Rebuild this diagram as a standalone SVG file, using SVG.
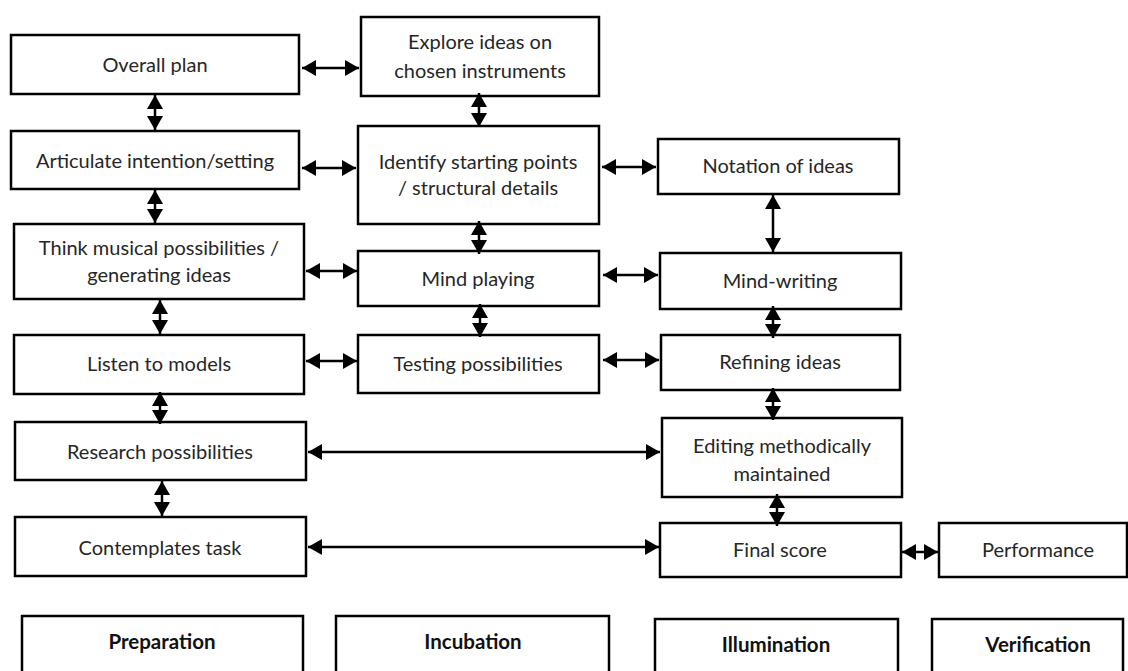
<svg xmlns="http://www.w3.org/2000/svg" width="1128" height="671" viewBox="0 0 1128 671">
  <style>
    .box { fill: #ffffff; stroke: #000000; stroke-width: 2.5; }
    .lbl { font-family: Lato, "Liberation Sans", sans-serif; font-size: 20px; fill: #262626; text-anchor: middle; }
    .stage { font-family: Lato, "Liberation Sans", sans-serif; font-size: 20.5px; font-weight: bold; fill: #111111; text-anchor: middle; }
    .link { stroke: #000000; stroke-width: 2.5; fill: none; marker-start: url(#head); marker-end: url(#head); }
  </style>
  <defs>
    <marker id="head" markerUnits="userSpaceOnUse" markerWidth="15" markerHeight="16" refX="14" refY="8" orient="auto-start-reverse" viewBox="0 0 15 16">
      <path d="M0,0 L14,8 L0,16 Z" fill="#000000"/>
    </marker>
  </defs>
  <rect width="1128" height="671" fill="#ffffff"/>

  <!-- Preparation column -->
  <g id="overall-plan">
    <rect class="box" x="11" y="35" width="288" height="59"/>
    <text class="lbl" x="155" y="72">Overall plan</text>
  </g>
  <g id="articulate-intention">
    <rect class="box" x="11" y="131" width="288" height="58"/>
    <text class="lbl" x="155" y="168">Articulate intention/setting</text>
  </g>
  <g id="think-possibilities">
    <rect class="box" x="14" y="224" width="290" height="75"/>
    <text class="lbl" x="159" y="255">Think musical possibilities /</text>
    <text class="lbl" x="159" y="282">generating ideas</text>
  </g>
  <g id="listen-models">
    <rect class="box" x="14" y="335" width="290" height="59"/>
    <text class="lbl" x="159" y="371">Listen to models</text>
  </g>
  <g id="research-possibilities">
    <rect class="box" x="15" y="422" width="291" height="58"/>
    <text class="lbl" x="160" y="459">Research possibilities</text>
  </g>
  <g id="contemplates-task">
    <rect class="box" x="15" y="517" width="291" height="59"/>
    <text class="lbl" x="160" y="555">Contemplates task</text>
  </g>

  <!-- Incubation column -->
  <g id="explore-ideas">
    <rect class="box" x="361" y="17" width="238" height="79"/>
    <text class="lbl" x="480" y="49">Explore ideas on</text>
    <text class="lbl" x="480" y="78">chosen instruments</text>
  </g>
  <g id="identify-starting-points">
    <rect class="box" x="358" y="126" width="241" height="98"/>
    <text class="lbl" x="478" y="169">Identify starting points</text>
    <text class="lbl" x="478" y="195">/ structural details</text>
  </g>
  <g id="mind-playing">
    <rect class="box" x="358" y="251" width="241" height="55"/>
    <text class="lbl" x="478" y="286">Mind playing</text>
  </g>
  <g id="testing-possibilities">
    <rect class="box" x="358" y="335" width="241" height="58"/>
    <text class="lbl" x="478" y="371">Testing possibilities</text>
  </g>

  <!-- Illumination column -->
  <g id="notation-of-ideas">
    <rect class="box" x="658" y="139" width="241" height="55"/>
    <text class="lbl" x="778" y="173">Notation of ideas</text>
  </g>
  <g id="mind-writing">
    <rect class="box" x="660" y="253" width="241" height="56"/>
    <text class="lbl" x="780" y="288">Mind-writing</text>
  </g>
  <g id="refining-ideas">
    <rect class="box" x="661" y="335" width="239" height="55"/>
    <text class="lbl" x="780" y="369">Refining ideas</text>
  </g>
  <g id="editing-methodically">
    <rect class="box" x="662" y="418" width="240" height="79"/>
    <text class="lbl" x="782" y="453">Editing methodically</text>
    <text class="lbl" x="782" y="481">maintained</text>
  </g>
  <g id="final-score">
    <rect class="box" x="660" y="523" width="241" height="54"/>
    <text class="lbl" x="780" y="557">Final score</text>
  </g>

  <!-- Verification column -->
  <g id="performance">
    <rect class="box" x="939" y="523" width="188" height="54"/>
    <text class="lbl" x="1038" y="557">Performance</text>
  </g>

  <!-- Stage headings along the bottom -->
  <g id="stage-preparation">
    <rect class="box" x="22" y="616" width="281" height="80"/>
    <text class="stage" x="162" y="649">Preparation</text>
  </g>
  <g id="stage-incubation">
    <rect class="box" x="336" y="616" width="273" height="80"/>
    <text class="stage" x="473" y="649">Incubation</text>
  </g>
  <g id="stage-illumination">
    <rect class="box" x="655" y="619" width="243" height="80"/>
    <text class="stage" x="776" y="652">Illumination</text>
  </g>
  <g id="stage-verification">
    <rect class="box" x="932" y="619" width="191" height="80"/>
    <text class="stage" x="1038" y="652">Verification</text>
  </g>

  <!-- Two-way connectors (short ones overlap the box edges slightly) -->
  <g id="connectors">
    <!-- vertical -->
    <line class="link" x1="155" y1="95" x2="155" y2="130"/>
    <line class="link" x1="155" y1="190" x2="155" y2="223"/>
    <line class="link" x1="160" y1="300" x2="160" y2="334"/>
    <line class="link" x1="160" y1="392" x2="160" y2="424"/>
    <line class="link" x1="162" y1="481" x2="162" y2="516"/>
    <line class="link" x1="479" y1="93" x2="479" y2="127"/>
    <line class="link" x1="479" y1="221" x2="479" y2="254"/>
    <line class="link" x1="480" y1="304" x2="480" y2="337"/>
    <line class="link" x1="773" y1="195" x2="773" y2="252"/>
    <line class="link" x1="773" y1="306" x2="773" y2="338"/>
    <line class="link" x1="773" y1="388" x2="773" y2="420"/>
    <line class="link" x1="777" y1="494" x2="777" y2="526"/>
    <!-- horizontal -->
    <line class="link" x1="302" y1="68" x2="359" y2="68"/>
    <line class="link" x1="302" y1="168" x2="356" y2="168"/>
    <line class="link" x1="602" y1="167" x2="656" y2="167"/>
    <line class="link" x1="306" y1="271" x2="357" y2="271"/>
    <line class="link" x1="603" y1="275" x2="658" y2="275"/>
    <line class="link" x1="306" y1="361" x2="357" y2="361"/>
    <line class="link" x1="603" y1="360" x2="659" y2="360"/>
    <line class="link" x1="308" y1="452" x2="660" y2="452"/>
    <line class="link" x1="308" y1="547" x2="659" y2="547"/>
    <line class="link" x1="902" y1="552" x2="938" y2="552"/>
  </g>
</svg>
